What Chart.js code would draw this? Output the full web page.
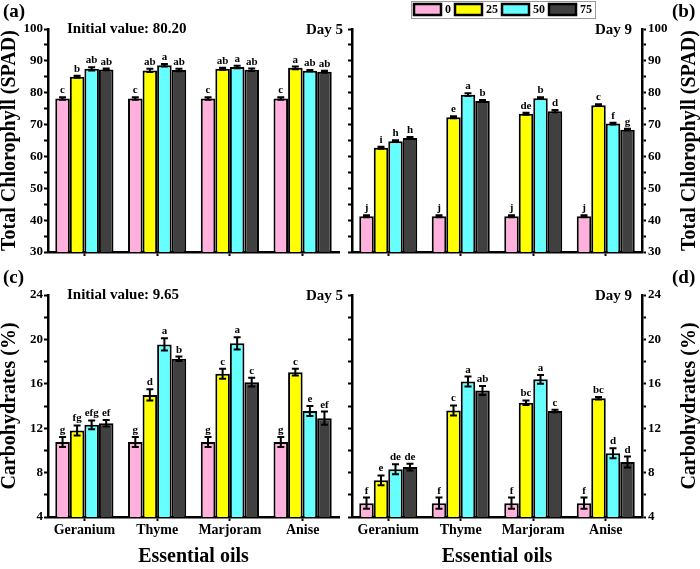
<!DOCTYPE html>
<html>
<head>
<meta charset="utf-8">
<script src="https://cdn.jsdelivr.net/npm/chart.js@4.4.0/dist/chart.umd.min.js"></script>
<style>
  html, body { margin: 0; padding: 0; background: #fff; }
  #wrap { position: relative; width: 700px; height: 569px; overflow: hidden; font-family: "Liberation Serif", serif; }
  canvas { position: absolute; }
  .tag { position: absolute; font: bold 19px "Liberation Serif", serif; color: #000; }
</style>
</head>
<body>
<div id="wrap">
  <canvas id="cA" width="345" height="280" style="left:0;top:0"></canvas>
  <canvas id="cB" width="360" height="280" style="left:340px;top:0"></canvas>
  <canvas id="cC" width="345" height="289" style="left:0;top:280px"></canvas>
  <canvas id="cD" width="360" height="289" style="left:340px;top:280px"></canvas>
  <div class="tag" style="left:3px;top:0px">(a)</div>
  <div class="tag" style="left:672px;top:0px">(b)</div>
  <div class="tag" style="left:3px;top:266px">(c)</div>
  <div class="tag" style="left:672px;top:266px">(d)</div>
</div>
<script>
/* ─── Data ─────────────────────────────────────── */
const OILS = ['Geranium', 'Thyme', 'Marjoram', 'Anise'];
const DOSES = ['0', '25', '50', '75'];
const DOSE_COLORS = ['#ffb0dc', '#ffff00', '#66ffff', '#404040'];

// rows = dose (0, 25, 50, 75), columns = oil
const chlDay5 = [
  [78.2, 78.2, 78.2, 78.2],
  [85.0, 87.0, 87.5, 87.8],
  [87.5, 88.6, 88.1, 86.9],
  [87.3, 87.1, 87.2, 86.6],
];
const chlDay5Err = [
  [0.4, 0.4, 0.4, 0.4],
  [0.3, 0.5, 0.3, 0.4],
  [0.5, 0.4, 0.4, 0.2],
  [0.3, 0.4, 0.4, 0.3],
];
const chlDay5Sig = [
  ['c', 'c', 'c', 'c'],
  ['b', 'ab', 'ab', 'a'],
  ['ab', 'a', 'a', 'ab'],
  ['ab', 'ab', 'ab', 'ab'],
];

const chlDay9 = [
  [41.2, 41.2, 41.2, 41.2],
  [62.7, 72.3, 73.4, 76.1],
  [64.8, 79.4, 78.3, 70.3],
  [65.8, 77.4, 74.2, 68.4],
];
const chlDay9Err = [
  [0.3, 0.3, 0.3, 0.3],
  [0.3, 0.3, 0.3, 0.3],
  [0.3, 0.4, 0.3, 0.3],
  [0.3, 0.3, 0.4, 0.3],
];
const chlDay9Sig = [
  ['j', 'j', 'j', 'j'],
  ['i', 'e', 'de', 'c'],
  ['h', 'a', 'b', 'f'],
  ['h', 'b', 'd', 'g'],
];

const carbDay5 = [
  [10.75, 10.75, 10.75, 10.75],
  [11.8, 15.0, 16.9, 17.05],
  [12.3, 19.55, 19.65, 13.55],
  [12.45, 18.25, 16.15, 12.9],
];
const carbDay5Err = [
  [0.45, 0.45, 0.45, 0.45],
  [0.45, 0.5, 0.45, 0.3],
  [0.4, 0.55, 0.55, 0.45],
  [0.3, 0.2, 0.4, 0.6],
];
const carbDay5Sig = [
  ['g', 'g', 'g', 'g'],
  ['fg', 'd', 'c', 'c'],
  ['efg', 'a', 'a', 'e'],
  ['ef', 'b', 'c', 'ef'],
];

const carbDay9 = [
  [5.25, 5.25, 5.25, 5.25],
  [7.3, 13.6, 14.3, 14.7],
  [8.3, 16.2, 16.4, 9.75],
  [8.5, 15.4, 13.55, 8.95],
];
const carbDay9Err = [
  [0.5, 0.5, 0.5, 0.5],
  [0.45, 0.45, 0.2, 0.12],
  [0.45, 0.45, 0.4, 0.45],
  [0.3, 0.4, 0.12, 0.5],
];
const carbDay9Sig = [
  ['f', 'f', 'f', 'f'],
  ['e', 'c', 'bc', 'bc'],
  ['de', 'a', 'a', 'd'],
  ['de', 'ab', 'c', 'd'],
];

/* ─── Helpers ─────────────────────────────────────── */
const FONT = '"Liberation Serif", serif';
Chart.defaults.font.family = FONT;

function buildDatasets(values, errors, letters) {
  return DOSES.map((d, k) => ({
    label: d,
    data: values[k],
    errors: errors[k],
    letters: letters[k],
    backgroundColor: DOSE_COLORS[k],
    borderColor: '#000', borderWidth: 2,
    categoryPercentage: 0.8, barPercentage: 1.0,
  }));
}

const decor = {
  id: 'decor',
  afterDatasetsDraw(chart, args, o) {
    const ctx = chart.ctx;
    const y = chart.scales.y;
    const a = chart.chartArea;
    ctx.save();

    // error bars + significance letters
    chart.data.datasets.forEach((ds, di) => {
      const meta = chart.getDatasetMeta(di);
      meta.data.forEach((bar, i) => {
        const v = ds.data[i], e = ds.errors[i];
        const top = y.getPixelForValue(v + e), bot = y.getPixelForValue(v - e);
        ctx.strokeStyle = '#000'; ctx.lineWidth = 2;
        ctx.beginPath();
        ctx.moveTo(bar.x, top); ctx.lineTo(bar.x, bot);
        ctx.moveTo(bar.x - 3.5, top); ctx.lineTo(bar.x + 3.5, top);
        ctx.moveTo(bar.x - 3.5, bot); ctx.lineTo(bar.x + 3.5, bot);
        ctx.stroke();
        ctx.fillStyle = '#000';
        ctx.font = 'bold 11px ' + FONT;
        ctx.textAlign = 'center'; ctx.textBaseline = 'alphabetic';
        ctx.fillText(ds.letters[i], bar.x, top - 4);
      });
    });

    // corner texts
    ctx.font = 'bold 15px ' + FONT;
    ctx.textBaseline = 'middle';
    if (o.leftText) { ctx.textAlign = 'left'; ctx.fillText(o.leftText, a.left + 19, a.top); }
    ctx.textAlign = 'right';
    ctx.fillText(o.rightText, a.right + o.rightDx, a.top + 1);

    // y title (bottom-to-top on both sides)
    ctx.font = 'bold 20px ' + FONT;
    ctx.translate(o.titleX, (a.top + a.bottom) / 2);
    ctx.rotate(-Math.PI / 2);
    ctx.textAlign = 'center';
    ctx.fillText(o.yTitle, 0, 0);
    ctx.restore();

    // legend
    if (o.legend) {
      ctx.save();
      ctx.font = 'bold 12px ' + FONT;
      ctx.textBaseline = 'middle'; ctx.textAlign = 'left';
      let x = 74;
      const x0 = x;
      chart.data.datasets.forEach(ds => {
        ctx.fillStyle = ds.backgroundColor;
        ctx.fillRect(x, 4, 27, 11);
        ctx.strokeStyle = '#000'; ctx.lineWidth = 2.5;
        ctx.strokeRect(x, 4, 27, 11);
        ctx.fillStyle = '#000';
        ctx.fillText(ds.label, x + 31, 10);
        x += 31 + ctx.measureText(ds.label).width + 4;
      });
      ctx.strokeStyle = '#999'; ctx.lineWidth = 1;
      ctx.strokeRect(x0 - 2.5, 1.5, x - x0 + 2, 17);
      ctx.restore();
    }
  }
};

function tickGrid() {
  return {
    display: true, drawOnChartArea: false, drawTicks: true, tickLength: 4,
    tickColor: '#000', color: '#000', tickWidth: 2,
  };
}

function makePanel(id, p) {
  const side = p.side;
  const yScale = {
    position: side,
    min: p.min, max: p.max,
    ticks: {
      stepSize: p.step, autoSkip: false, color: '#000', padding: side === 'left' ? 1 : 2,
      font: { family: FONT, weight: 'bold', size: 13 },
      callback: v => ((v - p.min) % p.labelStep === 0 ? v : ''),
    },
    grid: tickGrid(),
    border: { display: true, color: '#000', width: 2.5 },
    afterFit: s => { s.width = side === 'left' ? 48 : 58; },
  };
  const scales = {
    x: {
      offset: true,
      grid: { ...tickGrid(), offset: false },
      border: { display: true, color: '#000', width: 2.5 },
      ticks: {
        display: p.xLabels, color: '#000', padding: 1, maxRotation: 0, autoSkip: false,
        font: { family: FONT, weight: 'bold', size: 14 },
      },
      title: {
        display: p.xLabels, text: 'Essential oils', color: '#000',
        font: { family: FONT, weight: 'bold', size: 20 }, padding: { top: 0, bottom: 0 },
      },
      afterFit: s => { s.height = p.xHeight; },
    },
    y: yScale,
  };
  if (side === 'right') {
    scales.yl = {
      position: 'left', min: p.min, max: p.max,
      ticks: { stepSize: p.step, autoSkip: false, callback: () => '', font: { size: 1 } },
      grid: tickGrid(),
      border: { display: true, color: '#000', width: 2.5 },
      afterFit: s => { s.width = 12; },
    };
  }

  return new Chart(document.getElementById(id), {
    type: 'bar',
    data: { labels: OILS, datasets: buildDatasets(p.values, p.errors, p.letters) },
    options: {
      responsive: false, animation: false, devicePixelRatio: 1,
      layout: { padding: { top: p.padTop, left: 0, right: side === 'left' ? 6 : 0, bottom: 0 } },
      plugins: {
        legend: { display: false }, tooltip: { enabled: false },
        decor: {
          leftText: p.leftText, rightText: p.rightText, rightDx: side === 'left' ? 4 : -10,
          yTitle: p.yTitle, titleX: side === 'left' ? 10 : 350, legend: !!p.legend,
        },
      },
      scales,
    },
    plugins: [decor],
  });
}

/* ─── Panels ─────────────────────────────────────── */
function drawAll() {
  makePanel('cA', {
    values: chlDay5, errors: chlDay5Err, letters: chlDay5Sig,
    min: 30, max: 100, step: 5, labelStep: 10, side: 'left', xLabels: false, xHeight: 28, padTop: 29,
    leftText: 'Initial value: 80.20', rightText: 'Day 5', yTitle: 'Total Chlorophyll (SPAD)',
  });
  makePanel('cB', {
    values: chlDay9, errors: chlDay9Err, letters: chlDay9Sig,
    min: 30, max: 100, step: 5, labelStep: 10, side: 'right', xLabels: false, xHeight: 28, padTop: 29,
    rightText: 'Day 9', yTitle: 'Total Chlorophyll (SPAD)', legend: true,
  });
  makePanel('cC', {
    values: carbDay5, errors: carbDay5Err, letters: carbDay5Sig,
    min: 4, max: 24, step: 2, labelStep: 4, side: 'left', xLabels: true, xHeight: 52, padTop: 15,
    leftText: 'Initial value: 9.65', rightText: 'Day 5', yTitle: 'Carbohydrates (%)',
  });
  makePanel('cD', {
    values: carbDay9, errors: carbDay9Err, letters: carbDay9Sig,
    min: 4, max: 24, step: 2, labelStep: 4, side: 'right', xLabels: true, xHeight: 52, padTop: 15,
    rightText: 'Day 9', yTitle: 'Carbohydrates (%)',
  });
}

Promise.all([
  document.fonts.load('bold 14px "Liberation Serif"'),
  document.fonts.load('14px "Liberation Serif"'),
]).then(drawAll, drawAll);
</script>
</body>
</html>
